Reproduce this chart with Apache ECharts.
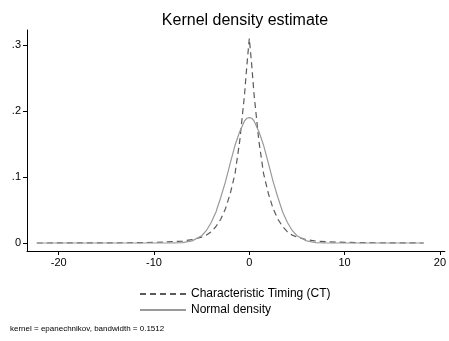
<!DOCTYPE html>
<html>
<head>
<meta charset="utf-8">
<script src="https://cdn.jsdelivr.net/npm/echarts@6/dist/echarts.min.js"></script>
<style>
  html, body { margin: 0; padding: 0; background: #fff; }
  #chart { width: 449px; height: 341px; }
</style>
</head>
<body>
<div id="chart"></div>
<script>
// evaluation points (x)
var xs = [-22.3, -20, -16, -12, -10, -8, -7, -6, -5, -4.5, -4, -3.5, -3, -2.5, -2, -1.5, -1, -0.5, -0.25, 0,
          0.25, 0.5, 1, 1.5, 2, 2.5, 3, 3.5, 4, 4.5, 5, 6, 7, 8, 10, 12, 16, 18.3];
// kernel density of CT (dashed)
var ctDensity = [0, 0.0001, 0.0002, 0.0005, 0.001, 0.002, 0.003, 0.005, 0.009, 0.012, 0.017, 0.025, 0.036, 0.052, 0.075, 0.105, 0.155, 0.225, 0.27, 0.31,
                 0.27, 0.225, 0.155, 0.105, 0.075, 0.052, 0.036, 0.025, 0.017, 0.012, 0.009, 0.005, 0.003, 0.002, 0.001, 0.0005, 0.0002, 0];
// normal density (solid)
var normDensity = [0, 0, 0, 0, 0, 0.0001, 0.0007, 0.0032, 0.011, 0.019, 0.031, 0.047, 0.069, 0.093, 0.121, 0.148, 0.169, 0.185, 0.189, 0.19,
                   0.189, 0.185, 0.169, 0.148, 0.121, 0.093, 0.069, 0.047, 0.031, 0.019, 0.011, 0.0032, 0.0007, 0.0001, 0, 0, 0, 0];
var xTicks = [-20, -10, 0, 10, 20];
var yTicks = [0, 0.1, 0.2, 0.3];
var seriesNames = ['Characteristic Timing (CT)', 'Normal density'];

function pairs(ys) {
  var out = [];
  for (var i = 0; i < xs.length; i++) out.push([xs[i], ys[i]]);
  return out;
}

var chart = echarts.init(document.getElementById('chart'));
var font = 'Liberation Sans, Arial, sans-serif';
chart.setOption({
  animation: false,
  title: {
    text: 'Kernel density estimate',
    left: 240, top: 8, textAlign: 'center',
    textStyle: { fontFamily: font, fontWeight: 'normal', fontSize: 16, color: '#000' }
  },
  grid: { left: 27, top: 30, right: 1, bottom: 90, containLabel: false },
  legend: {
    orient: 'vertical',
    left: 134, top: 283,
    itemWidth: 46, itemHeight: 12, itemGap: 4,
    data: seriesNames,
    itemStyle: { color: 'transparent', borderWidth: 0 },
    textStyle: { fontFamily: font, fontSize: 12, color: '#000' }
  },
  xAxis: {
    type: 'value',
    min: -23.33, max: 20.52,
    splitLine: { show: false },
    axisLine: { onZero: false, lineStyle: { color: '#000', width: 1 } },
    axisTick: { length: 4, customValues: xTicks, lineStyle: { color: '#000' } },
    axisLabel: { customValues: xTicks, margin: 6, fontFamily: font, fontSize: 11, color: '#000' }
  },
  yAxis: {
    type: 'value',
    min: -0.0121, max: 0.3227,
    splitLine: { show: false },
    axisLine: { show: true, onZero: false, lineStyle: { color: '#000', width: 1 } },
    axisTick: { show: true, length: 4, customValues: yTicks, lineStyle: { color: '#000' } },
    axisLabel: {
      customValues: yTicks, margin: 6, fontFamily: font, fontSize: 11, color: '#000',
      formatter: function (v) { return v === 0 ? '0' : String(+v.toFixed(1)).replace(/^0/, ''); }
    }
  },
  series: [
    {
      name: seriesNames[0], type: 'line', symbol: 'none', smooth: false,
      lineStyle: { color: '#5a5a5a', width: 1.2, type: [6, 4] },
      itemStyle: { color: '#5a5a5a' },
      data: pairs(ctDensity)
    },
    {
      name: seriesNames[1], type: 'line', symbol: 'none', smooth: false,
      lineStyle: { color: '#9a9a9a', width: 1.2 },
      itemStyle: { color: '#9a9a9a' },
      data: pairs(normDensity)
    }
  ],
  graphic: [{
    type: 'text', left: 10, top: 325,
    style: { text: 'kernel = epanechnikov, bandwidth = 0.1512', font: '8px ' + font, fill: '#000' }
  }]
});
</script>
</body>
</html>
